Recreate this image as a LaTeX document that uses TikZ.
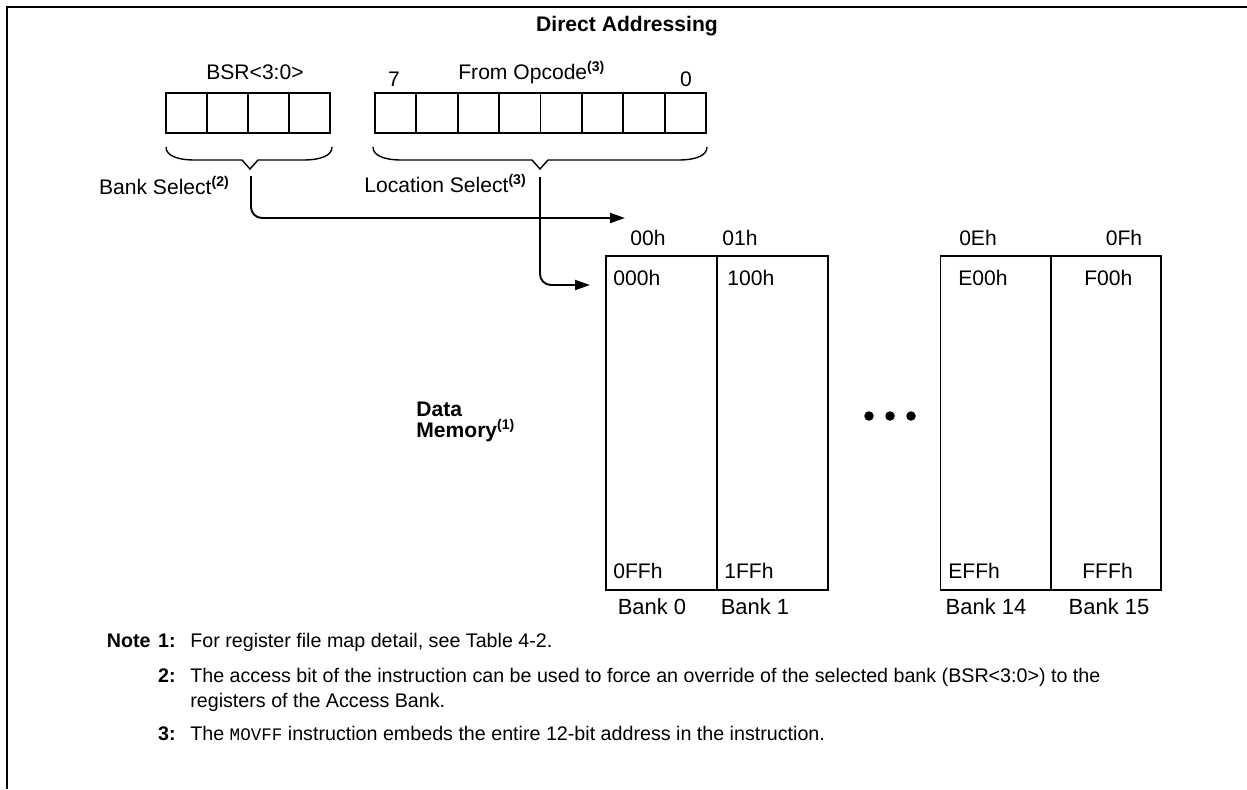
\documentclass[tikz,border=0pt]{standalone}
\usepackage{fontspec}
\setmainfont{Liberation Sans}
\setmonofont{Liberation Mono}
\usetikzlibrary{
	arrows.meta
}

\begin{document}
\begin{tikzpicture}[x=0.02cm, y=-0.02cm, font=\fontsize{12}{14}\selectfont,
		cell/.style={draw, line width=1.1pt, minimum width=0.82cm, minimum height=0.8cm, inner sep=0pt},
		bank/.style={draw, line width=1.1pt, minimum width=2.22cm, minimum height=6.68cm, inner sep=0pt},
		brace/.style={line width=0.8pt},
		conn/.style={line width=1.1pt, rounded corners=0.22cm, -{Triangle[length=0.3cm, width=0.2cm]}},
		txt/.style={inner sep=0pt, anchor=base},
		addr/.style={inner sep=0pt, anchor=base west},
		note/.style={inner sep=0pt, anchor=base west, font=\fontsize{11.2}{13}\selectfont},
		notenum/.style={inner sep=0pt, anchor=base east, font=\fontsize{11.2}{13}\selectfont\bfseries},
		dot/.style={circle, fill, inner sep=0pt, minimum size=0.19cm}]
			\useasboundingbox (0,0) rectangle (1247,789);
			\draw[line width=1.3pt] (1247,7) -- (7,7) -- (7,789);
			\node[txt, font=\fontsize{12}{14}\selectfont\bfseries] (title) at (627,31) {Direct Addressing};
			\foreach \i in {0,...,3}
				\node[cell] (bsr\i) at ({186.5+41*\i},113) {};
			\foreach \i in {0,...,7}
				\node[cell, minimum width=0.8275cm] (opc\i) at ({395.7+41.375*\i},113) {};
			\node[txt] (bsrlbl) at (255,79) {BSR<3:0>};
			\node[txt] (msb) at (394,86) {7};
			\node[txt, anchor=base west] (opclbl) at (458,79) {From Opcode\textsuperscript{\bfseries(3)}};
			\node[txt] (lsb) at (686,86) {0};
			\draw[brace] (166,147) .. controls (166,156) and (178,160) .. (195,160) -- (242,160) -- (250,169) -- (258,160) -- (303,160) .. controls (320,160) and (332,156) .. (332,147);
			\draw[brace] (373,147) .. controls (373,156) and (385,160) .. (402,160) -- (532,160) -- (540,169) -- (548,160) -- (678,160) .. controls (695,160) and (707,156) .. (707,147);
			\node[txt, anchor=base east] (banksel) at (230,194) {Bank Select\textsuperscript{\bfseries(2)}};
			\node[txt, anchor=base west] (locsel) at (364,192) {Location Select\textsuperscript{\bfseries(3)}};
			\node[bank] (bank0) at (661.5,423) {};
			\node[bank] (bank1) at (772.5,423) {};
			\node[bank, minimum width=2.2cm] (bank14) at (995.5,423) {};
			\node[bank, minimum width=2.2cm] (bank15) at (1106,423) {};
			\coordinate (bsrtip) at (251,176);
			\coordinate (opctip) at (540,177);
			\coordinate (bankin) at (625,218);
			\coordinate (locin) at (590,285);
			\draw[conn] (bsrtip) |- (bankin);
			\draw[conn] (opctip) |- (locin);
			\node[txt] (num0) at (648,245) {00h};
			\node[txt] (num1) at (740,245) {01h};
			\node[txt] (num14) at (978,245) {0Eh};
			\node[txt] (num15) at (1124,245) {0Fh};
			\node[addr] (lo0) at (613,285) {000h};
			\node[addr] (lo1) at (727,285) {100h};
			\node[addr] (lo14) at (958,285) {E00h};
			\node[addr] (lo15) at (1084,285) {F00h};
			\node[addr] (hi0) at (613,578) {0FFh};
			\node[addr] (hi1) at (724,578) {1FFh};
			\node[addr] (hi14) at (948,578) {EFFh};
			\node[addr] (hi15) at (1082,578) {FFFh};
			\node[txt, font=\fontsize{12.5}{14}\selectfont] (name0) at (652,614) {Bank 0};
			\node[txt, font=\fontsize{12.5}{14}\selectfont] (name1) at (755,614) {Bank 1};
			\node[txt, font=\fontsize{12.5}{14}\selectfont] (name14) at (986,614) {Bank 14};
			\node[txt, font=\fontsize{12.5}{14}\selectfont] (name15) at (1109,614) {Bank 15};
			\node[txt, anchor=base west, font=\fontsize{12}{14}\selectfont\bfseries] (datalbl) at (416,416) {Data};
			\node[txt, anchor=base west, font=\fontsize{12}{14}\selectfont\bfseries] (memlbl) at (416,437) {Memory\textsuperscript{(1)}};
			\foreach \x in {869,890,911}
				\node[dot] (dot\x) at (\x,416) {};
			\node[notenum] (notehd) at (151,647) {Note};
			\node[notenum] (n1) at (176,647) {1:};
			\node[note] (n1txt) at (190,647) {For register file map detail, see Table 4-2.};
			\node[notenum] (n2) at (176,682) {2:};
			\node[note] (n2txt) at (190,682) {The access bit of the instruction can be used to force an override of the selected bank (BSR<3:0>) to the};
			\node[note] (n2cont) at (190,707) {registers of the Access Bank.};
			\node[notenum] (n3) at (176,740) {3:};
			\node[note] (n3txt) at (190,740) {The {\fontsize{10}{12}\selectfont\ttfamily MOVFF} instruction embeds the entire 12-bit address in the instruction.};
		\end{tikzpicture}
\end{document}
